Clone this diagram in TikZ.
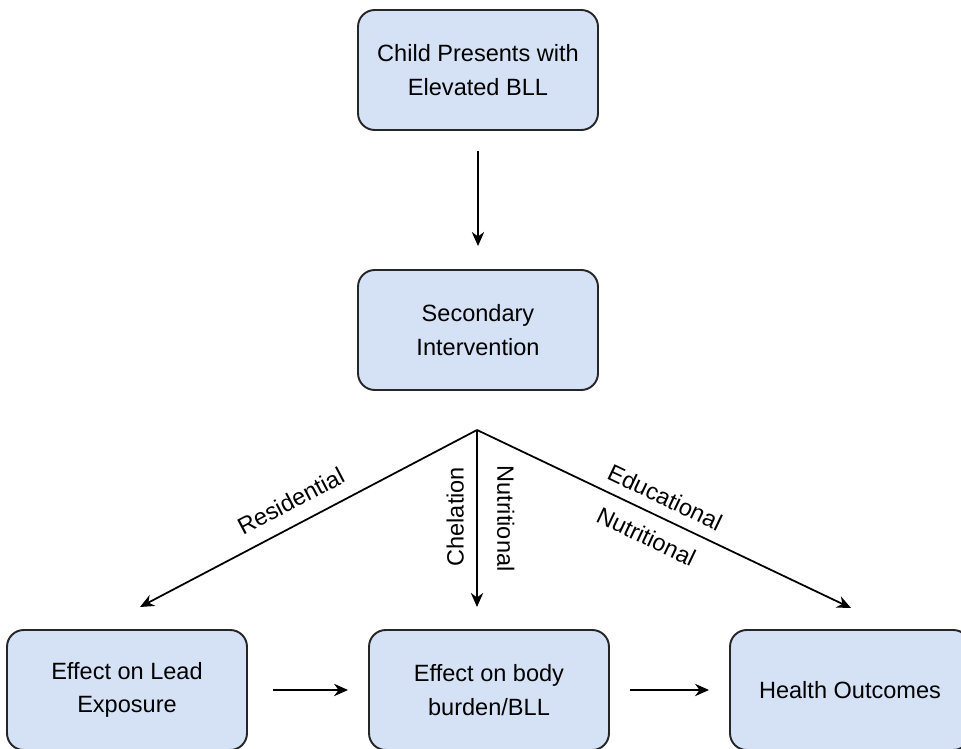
\documentclass[tikz,border=0pt]{standalone}
\usepackage{fontspec}
\setmainfont{Liberation Sans}
\usetikzlibrary{arrows.meta,positioning}
\definecolor{boxblue}{HTML}{D5E2F5}
\newcommand{\diagfont}{\fontsize{13.4}{19}\selectfont}

\begin{document}
\begin{tikzpicture}[x=0.02cm,y=-0.02cm,>={Stealth[length=8pt,width=7pt]},
    box/.style={draw=black!85,fill=boxblue,line width=1.1pt,rounded corners=9.5pt,
      minimum width=4.8cm,minimum height=2.4cm,align=center,font=\diagfont},
    link/.style={->,line width=1pt},
    tag/.style={font=\diagfont}]
  \useasboundingbox (0,0) rectangle (961,749);
  \clip (0,0) rectangle (961,749);
  % boxes
  \node[box] (child) at (478,70) {Child Presents with\\Elevated BLL};
  \node[box] (second) at (478,330) {Secondary\\Intervention};
  \node[box] (lead) at (127,690) {Effect on Lead\\Exposure};
  \node[box] (burden) at (489,690) {Effect on body\\burden/BLL};
  \node[box] (health) at (850,690) {Health Outcomes};
  % split point and arrow ends
  \coordinate (apex) at (477,430);
  \coordinate (leftend) at (140,607);
  \coordinate (midend) at (477,607);
  \coordinate (rightend) at (851,608);
  % arrows
  \draw[link,shorten <=0.4cm,shorten >=0.46cm] (child) -- (second);
  \draw[link] (apex) -- (leftend)
    node[tag,pos=0.52,sloped,above,inner sep=8pt] {Residential};
  \draw[link] (apex) -- (midend)
    node[tag,pos=0.49,rotate=90,anchor=south,inner sep=7pt] {Chelation}
    node[tag,pos=0.5,rotate=-90,anchor=south,inner sep=11pt] {Nutritional};
  \draw[link] (apex) -- (rightend)
    node[tag,pos=0.48,sloped,above,inner sep=6pt] {Educational}
    node[tag,pos=0.48,sloped,below,inner sep=8pt] {Nutritional};
  \draw[link,shorten <=0.5cm,shorten >=0.4cm] (lead) -- (burden);
  \draw[link,shorten <=0.4cm,shorten >=0.4cm] (burden) -- (health);
\end{tikzpicture}
\end{document}
